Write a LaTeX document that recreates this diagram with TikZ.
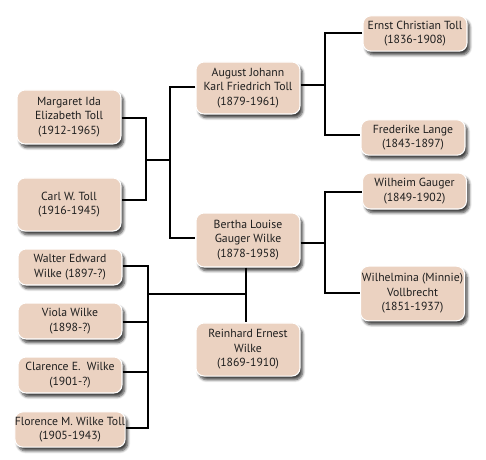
\documentclass[tikz,border=0pt]{standalone}
\usepackage{fontspec}
\setmainfont{PT Sans}
\usetikzlibrary{shadows.blur}
\definecolor{boxfill}{HTML}{EBD2C1}
\definecolor{txt}{HTML}{1E1E1E}
\tikzset{
  person/.style={draw=white, line width=0.8pt, fill=boxfill, rounded corners=6pt,
    minimum width=78pt, inner sep=0pt, align=center, text=txt,
    font=\fontsize{8.8}{10.9}\selectfont,
    blur shadow={shadow xshift=2pt, shadow yshift=-2.8pt, shadow blur steps=6, shadow blur extra rounding=1.5pt, shadow opacity=75}},
  link/.style={draw=black, line width=0.9pt}
}
\begin{document}
\begin{tikzpicture}[x=0.75pt,y=-0.75pt]
\useasboundingbox (0,0) rectangle (486,460);
% people
\node[person, minimum height=40.5pt] (margaret) at (69,117) {Margaret Ida\\Elizabeth Toll\\(1912-1965)};
\node[person, minimum height=39.8pt] (carl) at (69,204.5) {Carl W. Toll\\(1916-1945)};
\node[person, minimum height=39pt] (august) at (248,88) {August Johann\\Karl Friedrich Toll\\(1879-1961)};
\node[person, minimum height=40.5pt] (bertha) at (248,240) {Bertha Louise\\Gauger Wilke\\(1878-1958)};
\node[person, minimum height=39.8pt] (reinhard) at (248,349.5) {Reinhard Ernest\\Wilke\\(1869-1910)};
\node[person, minimum height=26.5pt] (ernst) at (415,33.5) {Ernst Christian Toll\\(1836-1908)};
\node[person, minimum height=26.5pt] (frederike) at (413,137.5) {Frederike Lange\\(1843-1897)};
\node[person, minimum height=27pt] (wilheim) at (414.5,191) {Wilheim Gauger\\(1849-1902)};
\node[person, minimum height=41pt] (wilhelmina) at (412.5,293.5) {Wilhelmina (Minnie)\\Vollbrecht\\(1851-1937)};
\node[person, minimum height=27pt] (walter) at (70,267) {Walter Edward\\Wilke (1897-?)};
\node[person, minimum height=27pt] (viola) at (70,321) {Viola Wilke\\(1898-?)};
\node[person, minimum height=27pt] (clarence) at (70,375) {Clarence E.\ \ Wilke\\(1901-?)};
\node[person, minimum height=26.5pt] (florence) at (70,429.5) {Florence M. Wilke Toll\\(1905-1943)};
% junction coordinates
\coordinate (jMC) at (146,118);
\coordinate (jCC) at (146,200);
\coordinate (jMid) at (146,160);
\coordinate (jP) at (170,160);
\coordinate (jA) at (170,87);
\coordinate (jB) at (170,238);
\coordinate (jAE) at (325,33);
\coordinate (jAF) at (325,135);
\coordinate (jAm) at (325,85);
\coordinate (jBW) at (325,192);
\coordinate (jBM) at (325,293);
\coordinate (jBm) at (325,243);
\coordinate (jK1) at (148,266);
\coordinate (jK2) at (148,322);
\coordinate (jK3) at (148,372);
\coordinate (jK4) at (148,428);
\coordinate (jKm) at (148,294);
\coordinate (jR) at (246,294);
% connectors
\draw[link] (margaret.east |- jMC) -- (jMC) -- (jCC) -- (carl.east |- jCC);
\draw[link] (jMid) -- (jP);
\draw[link] (august.west |- jA) -- (jA) -- (jB) -- (bertha.west |- jB);
\draw[link] (august.east |- jAm) -- (jAm);
\draw[link] (ernst.west |- jAE) -- (jAE) -- (jAF) -- (frederike.west |- jAF);
\draw[link] (bertha.east |- jBm) -- (jBm);
\draw[link] (wilheim.west |- jBW) -- (jBW) -- (jBM) -- (wilhelmina.west |- jBM);
\draw[link] (bertha.south -| jR) -- (reinhard.north -| jR);
\draw[link] (jKm) -- (jR);
\draw[link] (walter.east |- jK1) -- (jK1) -- (jK4) -- (florence.east |- jK4);
\draw[link] (viola.east |- jK2) -- (jK2);
\draw[link] (clarence.east |- jK3) -- (jK3);
\end{tikzpicture}
\end{document}
